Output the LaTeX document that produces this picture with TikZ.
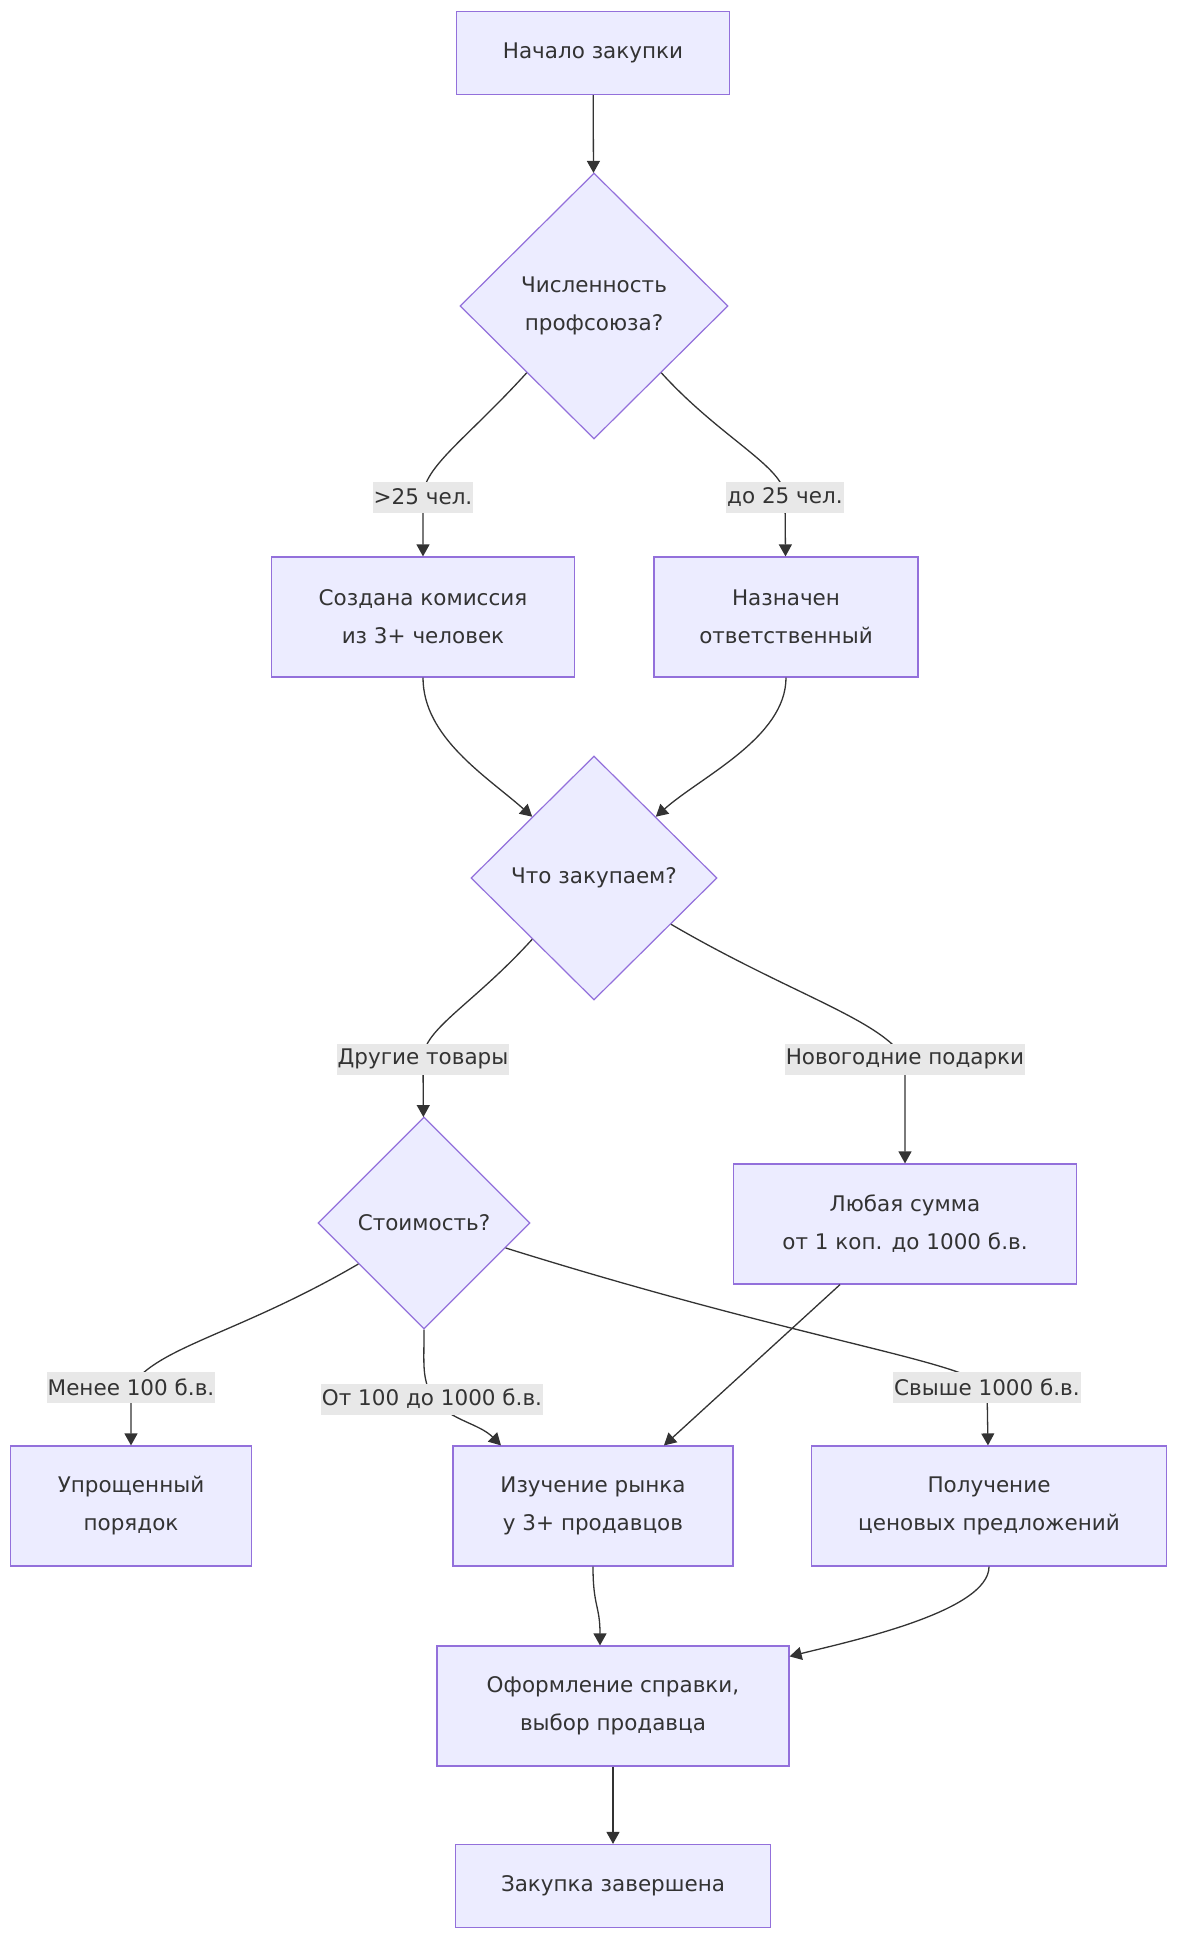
\documentclass[tikz,border=0pt]{standalone}
\usepackage{fontspec}
\setmainfont{DejaVu Sans}
\usetikzlibrary{arrows.meta, shapes.geometric}
\definecolor{boxFill}{HTML}{ECECFF}
\definecolor{boxLine}{HTML}{9370DB}
\definecolor{inkGray}{HTML}{333333}
\definecolor{lblFill}{HTML}{E8E8E8}

\begin{document}
\begin{tikzpicture}[x=1pt, y=-1pt,
        every node/.style={font=\fontsize{21.5}{38}\selectfont, text=inkGray},
        box/.style={draw=boxLine, fill=boxFill, line width=1.2pt, align=center, minimum height=120pt},
        choice/.style={diamond, draw=boxLine, fill=boxFill, line width=1.2pt, align=center, inner sep=0pt},
        lbl/.style={fill=lblFill, inner xsep=1pt, inner ysep=0pt, minimum height=31pt},
        link/.style={draw=inkGray, line width=1.3pt, -{Triangle[length=12pt,width=13pt]}}]
        \useasboundingbox (0,0) rectangle (1182,1945);
        % nodes
        \node[box, minimum width=273pt, minimum height=83pt] (start) at (593,53) {Начало закупки};
        \node[choice, minimum width=268pt, minimum height=266pt] (q1) at (594,306) {Численность\\профсоюза?};
        \node[box, minimum width=303pt] (comm) at (423,617) {Создана комиссия\\из 3+ человек};
        \node[box, minimum width=264pt] (resp) at (786,617) {Назначен\\ответственный};
        \node[choice, minimum width=246pt, minimum height=244pt] (q2) at (594,878) {Что закупаем?};
        \node[choice, minimum width=212pt, minimum height=212pt] (q3) at (424,1223) {Стоимость?};
        \node[box, minimum width=343pt] (sum) at (905,1224) {Любая сумма\\от 1 коп. до 1000 б.в.};
        \node[box, minimum width=241pt] (simple) at (131,1506) {Упрощенный\\порядок};
        \node[box, minimum width=280pt] (market) at (593,1506) {Изучение рынка\\у 3+ продавцов};
        \node[box, minimum width=355pt] (offers) at (989,1506) {Получение\\ценовых предложений};
        \node[box, minimum width=352pt] (memo) at (613,1706) {Оформление справки,\\выбор продавца};
        \node[box, minimum width=315pt, minimum height=83pt] (done) at (613,1886) {Закупка завершена};
        % connectors
        \draw[link] (start) -- (q1);
        \draw[link] (q1.south west) .. controls +(-60,66) and +(0,-30) .. (423,497) node[lbl] (lbBig) {>25 чел.} -- (comm);
        \draw[link] (q1.south east) .. controls +(60,66) and +(0,-30) .. (785,497) node[lbl] (lbSmall) {до 25 чел.} -- (resp);
        \draw[link] (comm.south) .. controls +(0,60) and +(-45,-40) .. (q2.north west);
        \draw[link] (resp.south) .. controls +(0,60) and +(45,-40) .. (q2.north east);
        \draw[link] (q2.south west) .. controls +(-60,66) and +(0,-30) .. (423,1059) node[lbl] (lbOther) {Другие товары} -- (q3);
        \draw[link] (q2.-31) .. controls +(120,70) and +(-25,-40) .. (905,1059) node[lbl] (lbGift) {Новогодние подарки} -- (sum);
        \draw[link] (q3.-148) .. controls +(-120,70) and +(25,-40) .. (131,1387) node[lbl] (lbLow) {Менее 100 б.в.} -- (simple);
        \draw[link] (q3.south) .. controls +(0,40) and +(-10,-25) .. (432,1399) node[lbl] (lbMid) {От 100 до 1000 б.в.}
            .. controls +(20,22) and +(-22,-22) .. ([xshift=-92pt]market.north);
        \draw[link] (q3.-17) .. controls (800,1340) and (960,1360) .. (987,1387) node[lbl] (lbHigh) {Свыше 1000 б.в.} -- (offers);
        \draw[link] ([xshift=-65pt]sum.south) -- ([xshift=71pt]market.north);
        \draw[link] (market.south) .. controls +(0,40) and +(0,-40) .. ([xshift=-13pt]memo.north);
        \draw[link] (offers.south) .. controls +(0,45) and +(60,-15) .. ([yshift=-11pt]memo.north east);
        \draw[link] (memo) -- (done);
    \end{tikzpicture}
\end{document}
